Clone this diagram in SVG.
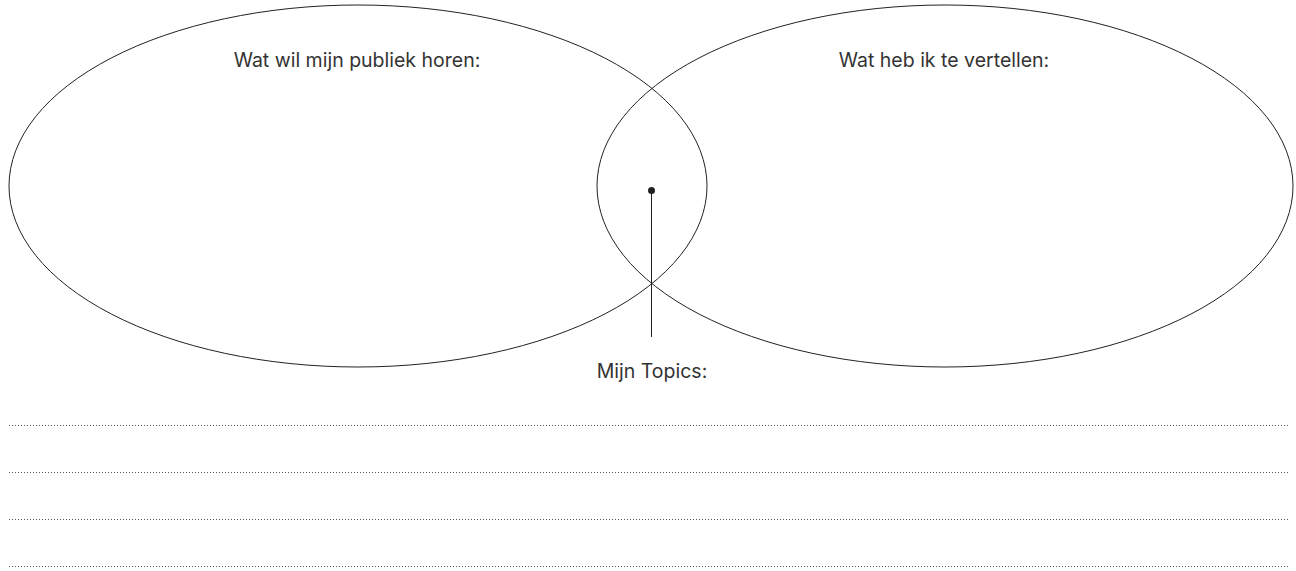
<svg xmlns="http://www.w3.org/2000/svg" width="1296" height="571" viewBox="0 0 1296 571">
<style>
.shape{fill:none;stroke:#222;stroke-width:1}
.lbl{font-family:Inter,"Liberation Sans",sans-serif;font-size:19.5px;fill:#333;text-anchor:middle}
.rule{stroke:#555;stroke-width:1;stroke-dasharray:1 2}
</style>
<rect width="1296" height="571" fill="#fff"/>
<g id="publiek">
<ellipse class="shape" cx="358" cy="186" rx="349" ry="181"/>
<text class="lbl" x="357" y="67">Wat wil mijn publiek horen:</text>
</g>
<g id="vertellen">
<ellipse class="shape" cx="945" cy="186" rx="348" ry="181"/>
<text class="lbl" x="944" y="67">Wat heb ik te vertellen:</text>
</g>
<g id="topics">
<text class="lbl" x="652" y="378">Mijn Topics:</text>
</g>
<g id="connectors">
<circle cx="651.5" cy="190.5" r="3.5" fill="#222"/>
<line class="shape" x1="651.5" y1="190" x2="651.5" y2="337"/>
</g>
<g id="lines">
<line class="rule" x1="9" y1="425.5" x2="1290" y2="425.5"/>
<line class="rule" x1="9" y1="472.5" x2="1290" y2="472.5"/>
<line class="rule" x1="9" y1="519.5" x2="1290" y2="519.5"/>
<line class="rule" x1="9" y1="566.5" x2="1290" y2="566.5"/>
</g>
</svg>
